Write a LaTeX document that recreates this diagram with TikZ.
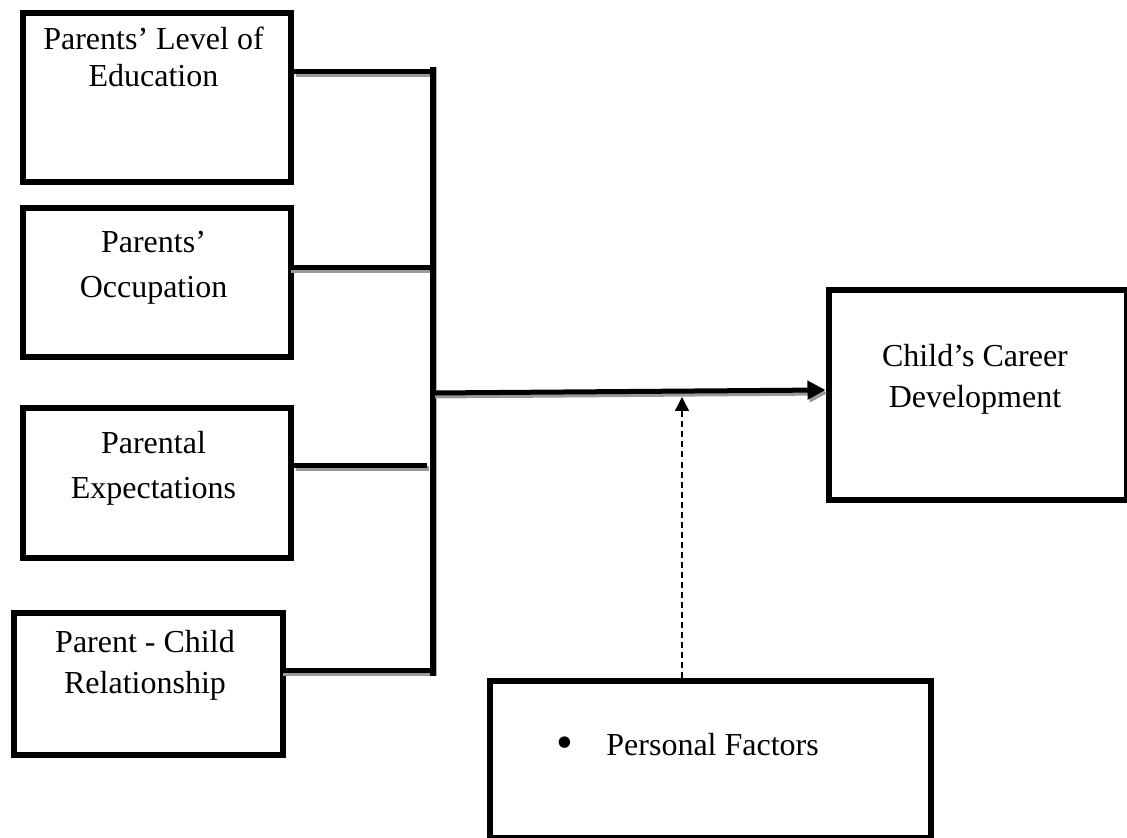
\documentclass[tikz,border=0pt]{standalone}
\usepackage{fontspec}
\setmainfont{Liberation Serif}
\usetikzlibrary{arrows.meta}
\begin{document}
\begin{tikzpicture}[x=0.5pt,y=-0.5pt,
  boxnode/.style={draw,line width=3pt,inner sep=0pt,anchor=north west},
  txt/.style={font=\fontsize{16pt}{18pt}\selectfont,anchor=base,inner sep=0pt},
  conn/.style={line width=2.8pt,preaction={draw=black!40,line width=2.8pt,transform canvas={shift={(1pt,-1.5pt)}}}},
  mainarrow/.style={line width=2.5pt,-{Triangle[length=9pt,width=9pt]},preaction={draw=black!40,line width=2.5pt,transform canvas={shift={(1pt,-1.5pt)}}}},
  dasharrow/.style={line width=0.7pt,dash pattern=on 3pt off 2pt,-{Triangle[length=7pt,width=7pt]}}]
\useasboundingbox (0,0) rectangle (1127,838);
% boxes
\node[boxnode,minimum width=134pt,minimum height=84.5pt] (b1) at (19.5,10.5) {};
\node[boxnode,minimum width=134pt,minimum height=74.5pt] (b2) at (19.5,205.5) {};
\node[boxnode,minimum width=134pt,minimum height=74.5pt] (b3) at (19.5,405.5) {};
\node[boxnode,minimum width=134.5pt,minimum height=71pt] (b4) at (10.5,609.5) {};
\node[boxnode,minimum width=149pt,minimum height=104.5pt] (cc) at (825.5,287.5) {};
\node[boxnode,minimum width=220.5pt,minimum height=78.5pt] (pf) at (486.5,677.5) {};
% texts
\node[txt] (t1a) at (153.5,50) {Parents’ Level of};
\node[txt] (t1b) at (153.5,87) {Education};
\node[txt] (t2a) at (153.5,253) {Parents’};
\node[txt] (t2b) at (153.5,298) {Occupation};
\node[txt] (t3a) at (153.5,454) {Parental};
\node[txt] (t3b) at (153.5,498) {Expectations};
\node[txt] (t4a) at (145,652) {Parent - Child};
\node[txt] (t4b) at (145,693) {Relationship};
\node[txt] (tca) at (975,367) {Child’s Career};
\node[txt] (tcb) at (975,408) {Development};
\node[txt,font=\fontsize{24pt}{26pt}\selectfont] (bul) at (565,758) {•};
\node[txt,anchor=base west] (tpf) at (606,755) {Personal Factors};
% junction coordinates
\coordinate (jtop) at (433,67);
\coordinate (jbot) at (433,676);
\coordinate (j1) at (433,71.5);
\coordinate (j2) at (433,267.5);
\coordinate (j3) at (427,465.5);
\coordinate (j4) at (433,670.5);
\coordinate (jm) at (433,393);
\coordinate (tip) at (823,390);
\coordinate (dtop) at (682,397);
% connectors
\draw[conn] (b1.east |- j1) -- (j1);
\draw[conn] ([xshift=-2.5pt]b2.east |- j2) -- (j2);
\draw[conn] (b3.east |- j3) -- (j3);
\draw[conn] ([xshift=-2.5pt]b4.east |- j4) -- (j4);
\draw[line width=2.8pt,preaction={draw=black!30,line width=2.8pt,transform canvas={shift={(0.8pt,0pt)}}}] (jtop) -- (jbot);
\draw[mainarrow] (jm) -- (cc.west |- tip);
\draw[dasharrow] (pf.north -| dtop) -- (dtop);
\end{tikzpicture}
\end{document}
